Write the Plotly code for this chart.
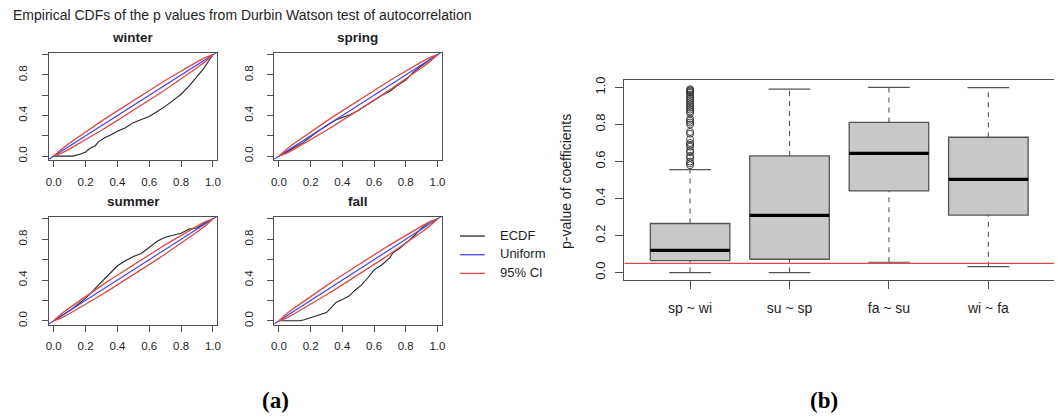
import plotly.graph_objects as go

W, H = 1058, 418

# ---------------- data ----------------
season_names = ["winter", "spring", "summer", "fall"]

winter_x = [0.0, 0.12, 0.17, 0.20, 0.23, 0.26, 0.28, 0.32, 0.36, 0.40, 0.45, 0.50, 0.55, 0.60,
            0.65, 0.70, 0.75, 0.80, 0.85, 0.90, 0.94, 0.97, 1.0]
winter_y = [0.0, 0.0, 0.02, 0.04, 0.08, 0.10, 0.14, 0.18, 0.21, 0.245, 0.28, 0.33, 0.36, 0.39,
            0.44, 0.49, 0.55, 0.61, 0.69, 0.78, 0.86, 0.93, 1.0]

spring_x = [0.0, 0.05, 0.10, 0.15, 0.20, 0.25, 0.30, 0.35, 0.40, 0.45, 0.50, 0.55, 0.60, 0.65,
            0.70, 0.75, 0.80, 0.85, 0.90, 0.95, 1.0]
spring_y = [0.0, 0.04, 0.09, 0.13, 0.19, 0.25, 0.30, 0.35, 0.38, 0.41, 0.45, 0.50, 0.55, 0.60,
            0.64, 0.70, 0.75, 0.83, 0.89, 0.95, 1.0]

summer_x = [0.0, 0.05, 0.10, 0.15, 0.20, 0.25, 0.30, 0.35, 0.40, 0.45, 0.50, 0.55, 0.60, 0.65,
            0.70, 0.75, 0.80, 0.85, 0.90, 0.95, 1.0]
summer_y = [0.0, 0.05, 0.10, 0.16, 0.22, 0.30, 0.38, 0.46, 0.54, 0.59, 0.63, 0.66, 0.72, 0.78,
            0.82, 0.84, 0.86, 0.90, 0.91, 0.96, 1.0]

fall_x = [0.0, 0.13, 0.16, 0.20, 0.25, 0.30, 0.33, 0.36, 0.40, 0.44, 0.48, 0.52, 0.56, 0.60,
          0.65, 0.70, 0.72, 0.76, 0.80, 0.85, 0.90, 0.95, 1.0]
fall_y = [0.0, 0.0, 0.01, 0.03, 0.05, 0.08, 0.13, 0.18, 0.21, 0.24, 0.30, 0.35, 0.42, 0.50,
          0.55, 0.62, 0.67, 0.71, 0.76, 0.83, 0.91, 0.97, 1.0]

uniform_line = [-1.0, 2.0]   # y = x reference (abline)

ci_x = [0.0, 0.05, 0.10, 0.15, 0.20, 0.25, 0.30, 0.35, 0.40, 0.45, 0.50, 0.55, 0.60, 0.65,
        0.70, 0.75, 0.80, 0.85, 0.90, 0.95, 1.0]
ci_upper = [0.0, 0.071, 0.129, 0.185, 0.239, 0.292, 0.345, 0.397, 0.448, 0.499, 0.549, 0.599,
            0.648, 0.697, 0.745, 0.792, 0.839, 0.885, 0.929, 0.971, 1.0]
ci_lower = [0.0, 0.029, 0.071, 0.115, 0.161, 0.208, 0.255, 0.303, 0.352, 0.401, 0.451, 0.501,
            0.552, 0.603, 0.655, 0.708, 0.761, 0.815, 0.871, 0.929, 1.0]

box_labels = ["sp ~ wi", "su ~ sp", "fa ~ su", "wi ~ fa"]
box_lower = [0.0, 0.0, 0.056, 0.032]
box_q1 = [0.065, 0.072, 0.441, 0.310]
box_median = [0.120, 0.309, 0.644, 0.503]
box_q3 = [0.265, 0.630, 0.811, 0.731]
box_upper = [0.556, 0.991, 1.0, 0.999]
outliers_sp_wi = [0.99, 0.985, 0.98, 0.975, 0.97, 0.96, 0.95, 0.94, 0.93, 0.92, 0.91, 0.90,
                  0.89, 0.88, 0.87, 0.86, 0.83, 0.82, 0.81, 0.80, 0.76, 0.75, 0.72, 0.70,
                  0.69, 0.68, 0.66, 0.65, 0.63, 0.62, 0.60, 0.59, 0.58]
threshold = 0.05

ecdf_ticks = [0.0, 0.2, 0.4, 0.6, 0.8, 1.0]
ecdf_xtext = ["0.0", "0.2", "0.4", "0.6", "0.8", "1.0"]
ecdf_ytext = ["0.0", "", "0.4", "", "0.8", ""]
box_ticks = [0.0, 0.2, 0.4, 0.6, 0.8, 1.0]
box_ytext = ["0.0", "0.2", "0.4", "0.6", "0.8", "1.0"]

# ---------------- styling ----------------
FONT = "Liberation Sans, Arial, Helvetica, sans-serif"
SERIF = "Liberation Serif, Times New Roman, serif"
FRAME = "#505050"
TXT = "#1e1e1e"
BLACK = "#262626"
BLUE = "rgb(70,70,225)"
RED = "rgb(222,72,72)"


def fx(p):
    return p / W


def fy(p):
    return 1 - p / H


# panel boxes in pixels: (left, right, top, bottom)
panel_px = [(46.3, 215.5, 49.7, 158.5), (273.0, 441.5, 49.7, 158.5),
            (46.3, 215.5, 216.7, 326.0), (273.0, 441.5, 216.7, 326.0)]
ecdf_data = [(winter_x, winter_y), (spring_x, spring_y), (summer_x, summer_y), (fall_x, fall_y)]

fig = go.Figure()
layout = dict(width=W, height=H, autosize=False, margin=dict(l=0, r=0, t=0, b=0),
              paper_bgcolor="white", plot_bgcolor="white", showlegend=False,
              font=dict(family=FONT, color=TXT))
annotations = []
shapes = []

for i, (name, (ex, ey), (l, r, t, b)) in enumerate(zip(season_names, ecdf_data, panel_px)):
    n = i + 1
    xa = "x" if n == 1 else f"x{n}"
    ya = "y" if n == 1 else f"y{n}"
    fig.add_trace(go.Scatter(x=ex, y=ey, mode="lines", line=dict(color=BLACK, width=1.1),
                             xaxis=xa, yaxis=ya, name="ECDF"))
    fig.add_trace(go.Scatter(x=uniform_line, y=uniform_line, mode="lines",
                             line=dict(color=BLUE, width=1.2), xaxis=xa, yaxis=ya, name="Uniform"))
    fig.add_trace(go.Scatter(x=ci_x, y=ci_upper, mode="lines", line=dict(color=RED, width=1.3),
                             xaxis=xa, yaxis=ya, name="95% CI"))
    fig.add_trace(go.Scatter(x=ci_x, y=ci_lower, mode="lines", line=dict(color=RED, width=1.3),
                             xaxis=xa, yaxis=ya, name="95% CI"))
    common = dict(showline=True, mirror=True, linecolor=FRAME, linewidth=1, ticks="outside",
                  ticklen=6, tickcolor=FRAME, tickwidth=1, showgrid=False, zeroline=False,
                  tickfont=dict(size=11.5, color=TXT, family=FONT), tickmode="array",
                  tickvals=ecdf_ticks)
    layout["xaxis" if n == 1 else f"xaxis{n}"] = dict(
        common, domain=[fx(l), fx(r)], range=[-0.03, 1.026], anchor=ya, ticktext=ecdf_xtext,
        ticklabelstandoff=5)
    layout["yaxis" if n == 1 else f"yaxis{n}"] = dict(
        common, domain=[fy(b), fy(t)], range=[-0.037, 1.018], anchor=xa, ticktext=ecdf_ytext,
        tickangle=-90, ticklabelstandoff=10)
    annotations.append(dict(text=f"<b>{name}</b>", x=fx((l + r) / 2), y=fy(t - 16),
                            xref="paper", yref="paper", xanchor="center", yanchor="middle",
                            showarrow=False, font=dict(size=13.5, color=TXT, family=FONT)))

# ---------------- boxplot ----------------
for k, lab in enumerate(box_labels):
    c = k + 1
    hw = 0.4
    sw = 0.21
    fig.add_trace(go.Scatter(x=[c - hw, c + hw, c + hw, c - hw, c - hw],
                             y=[box_q1[k], box_q1[k], box_q3[k], box_q3[k], box_q1[k]],
                             mode="lines", fill="toself", fillcolor="#c8c8c8",
                             line=dict(color="#555555", width=1.3), xaxis="x5", yaxis="y5"))
    fig.add_trace(go.Scatter(x=[c, c], y=[box_q3[k], box_upper[k]], mode="lines",
                             line=dict(color="#555555", width=1.1, dash="5px,5px"),
                             xaxis="x5", yaxis="y5"))
    fig.add_trace(go.Scatter(x=[c, c], y=[box_lower[k], box_q1[k]], mode="lines",
                             line=dict(color="#555555", width=1.1, dash="5px,5px"),
                             xaxis="x5", yaxis="y5"))
    for v in (box_upper[k], box_lower[k]):
        fig.add_trace(go.Scatter(x=[c - sw, c + sw], y=[v, v], mode="lines",
                                 line=dict(color="#555555", width=1.2), xaxis="x5", yaxis="y5"))
    fig.add_trace(go.Scatter(x=[c - hw, c + hw], y=[box_median[k], box_median[k]], mode="lines",
                             line=dict(color="black", width=3.2), xaxis="x5", yaxis="y5"))

fig.add_trace(go.Scatter(x=[1] * len(outliers_sp_wi), y=outliers_sp_wi, mode="markers",
                         marker=dict(symbol="circle-open", size=7, color="#333333",
                                     line=dict(width=0.9)),
                         xaxis="x5", yaxis="y5"))

shapes.append(dict(type="line", xref="x5 domain", yref="y5", x0=0, x1=1, y0=threshold,
                   y1=threshold, line=dict(color=RED, width=1.2), layer="above"))

bl, br, bt, bb = 625.6, 1058.0, 77.3, 280.7
layout["xaxis5"] = dict(domain=[fx(bl), fx(br)], range=[0.34, 4.66], anchor="y5",
                        showline=True, mirror=True, linecolor=FRAME, linewidth=1,
                        ticks="outside", ticklen=8, tickcolor=FRAME, showgrid=False,
                        zeroline=False, tickmode="array", tickvals=[1, 2, 3, 4],
                        ticktext=box_labels, ticklabelstandoff=7,
                        tickfont=dict(size=14, color=TXT, family=FONT))
layout["yaxis5"] = dict(domain=[fy(bb), fy(bt)], range=[-0.04, 1.04], anchor="x5",
                        showline=True, mirror=False, linecolor=FRAME, linewidth=1,
                        ticks="outside", ticklen=8, tickcolor=FRAME, showgrid=False,
                        zeroline=False, tickmode="array", tickvals=box_ticks,
                        ticktext=box_ytext, tickangle=-90, ticklabelstandoff=5,
                        tickfont=dict(size=13, color=TXT, family=FONT))

annotations.append(dict(text="p-value of coefficients", x=fx(566.7), y=fy(180), xref="paper",
                        yref="paper", textangle=-90, showarrow=False, xanchor="center",
                        yanchor="middle", font=dict(size=14, color=TXT, family=FONT)))

# ---------------- titles, legend, panel labels ----------------
annotations.append(dict(text="Empirical CDFs of the p values from Durbin Watson test of autocorrelation",
                        x=fx(8), y=fy(11.5), xref="paper", yref="paper", xanchor="left",
                        yanchor="middle", showarrow=False,
                        font=dict(size=14, color=TXT, family=FONT)))

legend_items = [("ECDF", BLACK), ("Uniform", BLUE), ("95% CI", RED)]
for j, (lab, col) in enumerate(legend_items):
    yy = 236 + 19 * j
    shapes.append(dict(type="line", xref="paper", yref="paper", x0=fx(460), x1=fx(485),
                       y0=fy(yy), y1=fy(yy), line=dict(color=col, width=1.3)))
    annotations.append(dict(text=lab, x=fx(498), y=fy(yy - 1), xref="paper", yref="paper",
                            xanchor="left", yanchor="middle", showarrow=False,
                            font=dict(size=13, color=TXT, family=FONT)))

for lab, cx in (("(a)", 274), ("(b)", 826)):
    annotations.append(dict(text=f"<b>{lab}</b>", x=fx(cx), y=fy(403), xref="paper",
                            yref="paper", xanchor="center", yanchor="middle", showarrow=False,
                            font=dict(size=23, color="black", family=SERIF)))

layout["annotations"] = annotations
layout["shapes"] = shapes
fig.update_layout(**layout)
fig.write_html("out.html")
